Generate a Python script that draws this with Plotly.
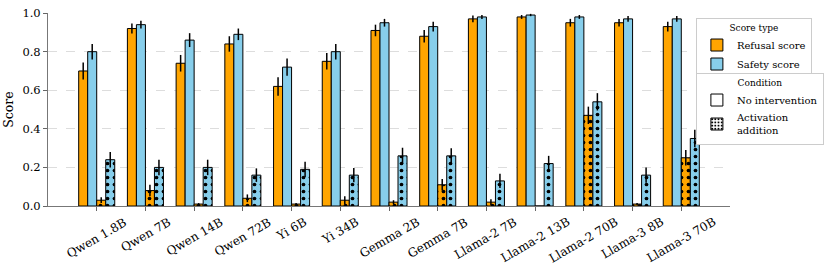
import plotly.graph_objects as go

models = ["Qwen 1.8B", "Qwen 7B", "Qwen 14B", "Qwen 72B", "Yi 6B", "Yi 34B",
          "Gemma 2B", "Gemma 7B", "Llama-2 7B", "Llama-2 13B", "Llama-2 70B",
          "Llama-3 8B", "Llama-3 70B"]

refusal_none = [0.70, 0.92, 0.74, 0.84, 0.62, 0.75, 0.91, 0.88, 0.97, 0.98, 0.95, 0.95, 0.93]
refusal_none_err = [0.044, 0.026, 0.043, 0.04, 0.048, 0.043, 0.03, 0.033, 0.017, 0.01, 0.02, 0.02, 0.025]
safety_none = [0.80, 0.94, 0.86, 0.89, 0.72, 0.80, 0.95, 0.93, 0.98, 0.99, 0.98, 0.97, 0.97]
safety_none_err = [0.04, 0.02, 0.036, 0.03, 0.045, 0.04, 0.02, 0.025, 0.01, 0.006, 0.01, 0.015, 0.015]
refusal_act = [0.03, 0.08, 0.01, 0.04, 0.01, 0.03, 0.02, 0.11, 0.02, 0.0, 0.47, 0.01, 0.25]
refusal_act_err = [0.015, 0.03, 0.005, 0.02, 0.005, 0.02, 0.01, 0.03, 0.015, 0.0, 0.045, 0.005, 0.04]
safety_act = [0.24, 0.20, 0.20, 0.16, 0.19, 0.16, 0.26, 0.26, 0.13, 0.22, 0.54, 0.16, 0.35]
safety_act_err = [0.04, 0.04, 0.04, 0.035, 0.04, 0.037, 0.042, 0.04, 0.037, 0.04, 0.045, 0.04, 0.045]

ORANGE = "#FFA500"
BLUE = "#87CEEB"
FONT = "DejaVu Serif"

W = 0.185
series = [
    (refusal_none, refusal_none_err, ORANGE, False, -2 * W),
    (safety_none, safety_none_err, BLUE, False, -W),
    (refusal_act, refusal_act_err, ORANGE, True, 0.0),
    (safety_act, safety_act_err, BLUE, True, W),
]

fig = go.Figure()
for vals, errs, col, patt, off in series:
    marker = dict(color=col, line=dict(color="black", width=1))
    if patt:
        marker["pattern"] = dict(shape=".", fgcolor="black", bgcolor=col,
                                 size=7, solidity=0.22, fillmode="replace")
    fig.add_trace(go.Bar(
        x=models, y=vals, width=W, offset=off, marker=marker,
        error_y=dict(type="data", array=errs, color="black", thickness=1.5, width=0),
        showlegend=False, hoverinfo="skip"))

# legend entries
fig.add_trace(go.Bar(x=[None], y=[None], name="Refusal score", legend="legend",
                     marker=dict(color=ORANGE, line=dict(color="black", width=1))))
fig.add_trace(go.Bar(x=[None], y=[None], name="Safety score", legend="legend",
                     marker=dict(color=BLUE, line=dict(color="black", width=1))))
fig.add_trace(go.Bar(x=[None], y=[None], name="No intervention", legend="legend2",
                     marker=dict(color="white", line=dict(color="black", width=1))))
fig.add_trace(go.Bar(x=[None], y=[None], name="Activation<br>addition", legend="legend2",
                     marker=dict(color="white", line=dict(color="black", width=1),
                                 pattern=dict(shape=".", fgcolor="black", bgcolor="white",
                                              size=4, solidity=0.35, fillmode="replace"))))

for m in models:
    fig.add_annotation(x=m, y=0, xref="x", yref="paper", text=m, showarrow=False,
                       textangle=-30, xanchor="center", yanchor="top", yshift=-6,
                       font=dict(family=FONT, size=12, color="black"))

fig.update_layout(
    width=830, height=267,
    barmode="overlay",
    plot_bgcolor="white", paper_bgcolor="white",
    margin=dict(l=48, r=100, t=13, b=61, autoexpand=False),
    font=dict(family=FONT, size=11.5, color="black"),
    xaxis=dict(type="category", categoryorder="array", categoryarray=models,
               range=[-1, 13], showticklabels=False, ticks="outside", ticklen=4,
               tickcolor="#666", showline=True, linecolor="#777", linewidth=1,
               showgrid=False, zeroline=False),
    yaxis=dict(range=[0, 1.0005], tickvals=[0, 0.2, 0.4, 0.6, 0.8, 1.0],
               ticktext=["0.0", "0.2", "0.4", "0.6", "0.8", "1.0"],
               tickfont=dict(family=FONT, size=11.5, color="black"),
               ticklabeloverflow="allow",
               ticks="outside", ticklen=4, tickcolor="#666",
               showline=True, linecolor="#777", linewidth=1,
               showgrid=True, gridcolor="#ddd", griddash="dash", gridwidth=0.8,
               zeroline=False,
               title=dict(text="Score", standoff=6,
                          font=dict(family=FONT, size=12.5, color="black"))),
    legend=dict(x=0.95, y=0.975, xanchor="left", yanchor="top",
                bordercolor="#ccc", borderwidth=1, bgcolor="white",
                title=dict(text="Score type", side="top center",
                           font=dict(family=FONT, size=9, color="black")),
                font=dict(family=FONT, size=10, color="black"),
                itemwidth=30, tracegroupgap=0),
    legend2=dict(x=0.95, y=0.69, xanchor="left", yanchor="top",
                 bordercolor="#ccc", borderwidth=1, bgcolor="white",
                 title=dict(text="Condition", side="top center",
                            font=dict(family=FONT, size=9, color="black")),
                 font=dict(family=FONT, size=10, color="black"),
                 itemwidth=30, tracegroupgap=0),
)

# remove the default 8px page margin so the figure fills the 830x267 window
fig.write_html("out.html", config={"displayModeBar": False},
               post_script="document.body.style.margin='0';")
